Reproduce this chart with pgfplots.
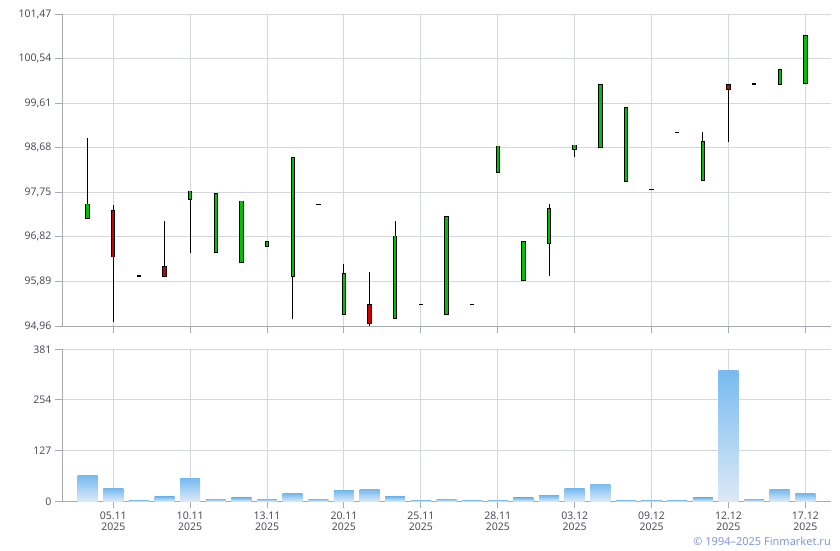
\documentclass[border=0pt]{standalone}
\usepackage{fontspec}
\setmainfont{Noto Sans}
\usepackage{pgfplots}
\usepackage{pgfplotstable}
\pgfplotsset{compat=1.18}

\definecolor{gridc}{HTML}{D3D7DB}
\definecolor{axisc}{HTML}{A7A9B3}
\definecolor{labc}{HTML}{4F4F5E}
\definecolor{upc}{HTML}{00C000}
\definecolor{dnc}{HTML}{CC0000}
\definecolor{voltop}{HTML}{78BBF0}
\definecolor{volbot}{HTML}{DDE9F6}
\definecolor{copyc}{HTML}{8096E0}

% daily candles: open, high, low, close
\pgfplotstableread{
i  o      h      l      c
0  97.21  98.89  97.21  97.50
1  97.36  97.48  95.05  96.41
2  96.00  96.00  96.00  96.00
3  96.19  97.15  96.00  96.00
4  97.61  97.77  96.49  97.77
5  96.50  97.71  96.50  97.71
6  96.29  97.56  96.29  97.56
7  96.62  96.71  96.62  96.71
8  96.00  98.49  95.10  98.46
9  97.50  97.50  97.50  97.50
10 95.21  96.25  95.21  96.04
11 95.40  96.08  94.97  95.02
12 95.12  97.15  95.12  96.83
13 95.41  95.41  95.41  95.41
14 95.21  97.23  95.21  97.23
15 95.41  95.41  95.41  95.41
16 98.17  98.71  98.17  98.71
17 95.91  96.71  95.91  96.71
18 96.69  97.50  96.00  97.40
19 98.65  98.73  98.48  98.73
20 98.69  99.99  98.69  99.99
21 97.98  99.51  97.98  99.51
22 97.81  97.81  97.81  97.81
23 99.00  99.00  99.00  99.00
24 98.00  99.00  98.00  98.80
25 99.99  100.01 98.79  99.90
26 100.01 100.01 99.99  100.01
27 100.01 100.30 100.01 100.30
28 100.03 101.01 100.01 101.01
}\candles

\pgfplotstableread{
i  v
0  63.5
1  30.9
2  3.3
3  10.9
4  56.0
5  5.8
6  8.4
7  5.8
8  18.4
9  5.8
10 25.9
11 28.4
12 10.9
13 3.3
14 5.8
15 3.3
16 3.3
17 8.4
18 13.4
19 30.9
20 43.4
21 3.3
22 3.3
23 3.3
24 8.4
25 326.7
26 5.8
27 28.4
28 18.4
}\volumes

\pgfplotsset{
  finstyle/.style={
    scale only axis, width=769pt,
    xmin=-1, xmax=29,
    axis lines*=left,
    axis line style={draw=axisc, line width=1pt, -},
    tick style={draw=axisc, line width=1pt},
    tick align=outside,
    major tick length=7pt,
    grid=major,
    grid style={draw=gridc, line width=1pt},
    xtick={1,4,...,28},
    ticklabel style={font=\fontsize{10.5}{11.5}\selectfont, text=labc},
    /pgf/number format/assume math mode=true,
  },
  bodybar/.style 2 args={draw=none, mark=none,
    error bars/.cd, y dir=plus, y explicit, error mark=none,
    error bar style={draw=#1, solid, line width=#2}},
}

\begin{document}
\begin{tikzpicture}
\useasboundingbox (0,0) rectangle (840pt,-550pt);

\begin{axis}[finstyle, at={(62pt,-14pt)}, anchor=north west, height=312pt,
  ymin=94.96, ymax=101.47,
  ytick={94.96,95.89,96.82,97.75,98.68,99.61,100.54,101.47},
  yticklabel style={/pgf/number format/.cd, use comma, fixed, fixed zerofill, precision=2},
  xticklabels={},
]
% wicks
\addplot[bodybar={black}{1pt}]
  table[x=i, y=l, y error plus expr=\thisrow{h}-\thisrow{l}] {\candles};
% body outlines
\addplot[bodybar={black}{4.4pt}]
  table[x=i, y expr={min(\thisrow{o},\thisrow{c})-0.016},
        y error plus expr={abs(\thisrow{c}-\thisrow{o})+0.032}] {\candles};
% rising bodies
\addplot[bodybar={upc}{2.4pt}]
  table[x=i, y=o, y error plus expr={max(\thisrow{c}-\thisrow{o},0)}] {\candles};
% falling bodies
\addplot[bodybar={dnc}{2.4pt}]
  table[x=i, y=c, y error plus expr={max(\thisrow{o}-\thisrow{c},0)}] {\candles};
\end{axis}

\begin{axis}[finstyle, at={(62pt,-349.3pt)}, anchor=north west, height=152pt,
  ymin=0, ymax=381, ytick={0,127,254,381},
  xticklabel style={align=center},
  xticklabels={{05.11\\2025},{10.11\\2025},{13.11\\2025},{20.11\\2025},{25.11\\2025},
               {28.11\\2025},{03.12\\2025},{09.12\\2025},{12.12\\2025},{17.12\\2025}},
]
% one plot per bar so that each bar gets its own gradient
\pgfplotsinvokeforeach{0,...,28}{
  \addplot[ybar, bar width=20pt, draw=none, top color=voltop, bottom color=volbot]
    table[x=i, y=v, restrict x to domain=#1:#1] {\volumes};
}
\end{axis}

\node[anchor=base east, font=\fontsize{11}{12}\selectfont, text=copyc, inner sep=0pt]
  at (831pt,-545pt) {© 1994–2025 Finmarket.ru};
\end{tikzpicture}
\end{document}
